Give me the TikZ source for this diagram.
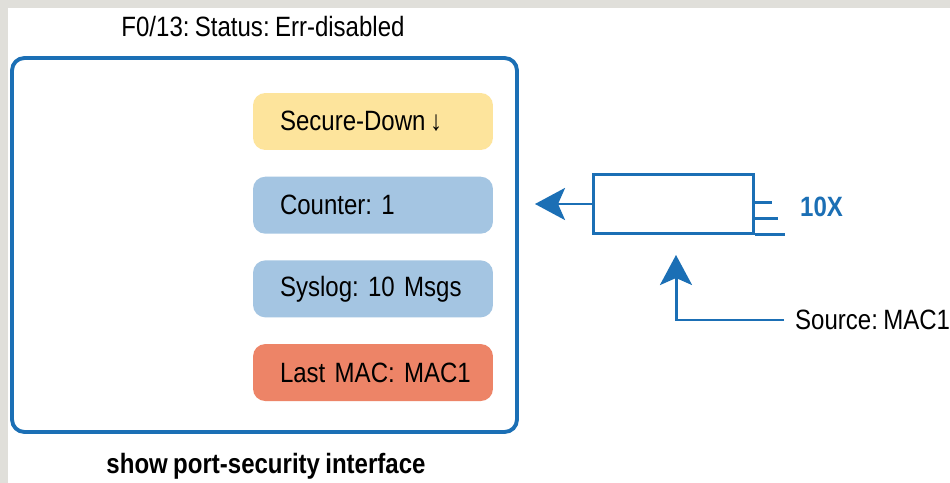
\documentclass[tikz,border=0pt]{standalone}
\usepackage{fontspec}
\setmainfont{Liberation Sans}[FakeStretch=0.86,WordSpace=0.8]
\usepackage{tikz}
\usetikzlibrary{arrows.meta,positioning,calc}
\definecolor{boxblue}{HTML}{1B6FB5}
\definecolor{pillyellow}{HTML}{FDE49C}
\definecolor{pillblue}{HTML}{A4C5E2}
\definecolor{pillred}{HTML}{ED8467}
\definecolor{framegray}{HTML}{E0DFDA}
\newcommand{\diagramsize}{\fontsize{15.9}{19}\selectfont\frenchspacing}
\tikzset{
  panelbox/.style={
    draw=boxblue,
    line width=2.2pt,
    rounded corners=7pt,
    minimum width=10.1cm,
    minimum height=7.48cm
  },
  statepill/.style={
    rounded corners=7pt,
    align=left,
    text width=4.8cm,
    inner xsep=0pt,
    inner ysep=0pt,
    minimum height=1.14cm,
    execute at begin node=\hspace*{0.54cm}
  },
  portframe/.style={
    draw=boxblue,
    line width=1.7pt,
    minimum width=3.22cm,
    minimum height=1.18cm
  },
  wire/.style={draw=boxblue,line width=1.7pt},
  bluearrow/.style={-{Stealth[length=0.6cm,width=0.64cm,inset=0.14cm]},line width=1.7pt,draw=boxblue}
}
\begin{document}
\begin{tikzpicture}[x=0.02cm,y=-0.02cm,font=\diagramsize]
  \useasboundingbox (0,0) rectangle (950,483);
  \fill[framegray] (0,0) rectangle (950,483);
  \fill[white] (8,8) rectangle (950,483);

  \node (status) at (263,27) {F0/13: Status: Err-disabled};
  \node[panelbox] (panel) at (264.5,245) {};
  \node[statepill,fill=pillyellow] (secure) at (373,121.5) {Secure-Down\,{\bfseries ↓}};
  \node[statepill,fill=pillblue,below=0.52cm of secure] (counter) {Counter: 1};
  \node[statepill,fill=pillblue,below=0.52cm of counter] (syslog) {Syslog: 10 Msgs};
  \node[statepill,fill=pillred,below=0.52cm of syslog] (lastmac) {Last MAC: MAC1};
  \node[font=\diagramsize\bfseries] (command) at (266,466) {show port-security interface};

  \node[portframe] (frame) at (673.5,204) {};
  \coordinate (intotip) at (535,204);
  \node[font=\diagramsize\bfseries,text=boxblue,anchor=west] (repeat) at (794,207) {10X};
  \node[anchor=west] (source) at (789,320) {Source: MAC1};
  \coordinate (uptip) at (676,255);

  \draw[bluearrow] (frame.west) -- (intotip);
  \draw[wire] ($(frame.south east)+(0,-32)$) -- ++(17,0);
  \draw[wire] ($(frame.south east)+(0,-16)$) -- ++(23,0);
  \draw[wire] (frame.south east) -- ++(30,0);
  \draw[bluearrow] ($(source.west)+(-5,0)$) -| (uptip);
\end{tikzpicture}
\end{document}
